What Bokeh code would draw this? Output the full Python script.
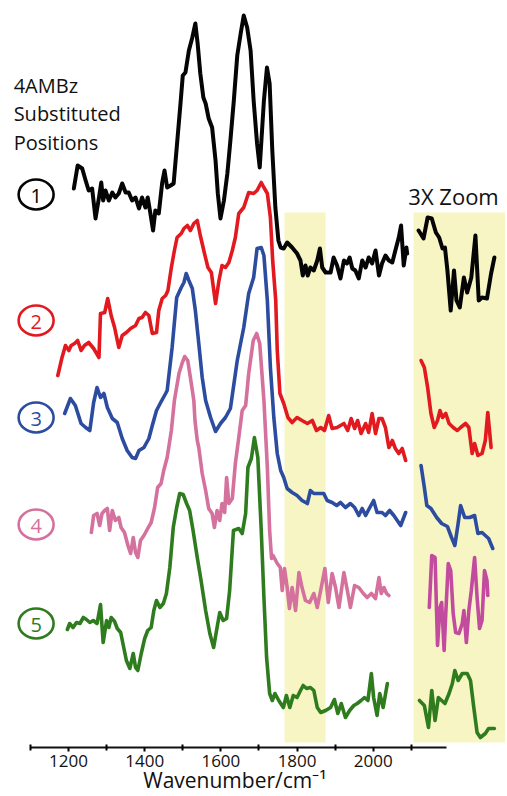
import numpy as np
from bokeh.plotting import figure
from bokeh.models import Range1d, FixedTicker, BoxAnnotation, Label, ColumnDataSource
from bokeh.core.properties import value
from bokeh.embed import file_html
from bokeh.resources import INLINE

# ---------------- data (wavenumber / cm-1, signal in arbitrary units) ----------------
WN1 = [1214,1224,1236,1245,1253,1262,1271,1280,1286,1291,1297,1306,1315,1323,1332,1341,1350,1358,1367,1376,
       1385,1393,1402,1408,1415,1422,1428,1437,1446,1452,1459,1468,1476,1485,1494,1500,1507,1516,1525,1533,
       1539,1546,1554,1560,1568,1577,1586,1592,1599,1608,1617,1625,1634,1643,1652,1660,1669,1678,1686,1695,
       1702,1713,1721,1728,1735,1743,1751,1757,1765,1774,1787,1800,1809,1815,1822,1828,1835,1844,1853,1860,
       1866,1875,1888,1896,1905,1914,1923,1931,1938,1945,1953,1962,1971,1980,1988,1997,2006,2015,2023,2032,
       2041,2050,2058,2067,2073,2080,2087,2089]
S1 = [72,95,92,80,70,72,42,63,78,60,70,60,68,63,67,77,68,68,60,63,
      52,63,53,63,47,30,50,47,78,90,73,75,77,117,157,185,188,210,223,237,
      217,187,163,157,142,133,100,67,42,60,87,120,160,205,227,245,233,210,160,117,
      93,160,193,177,110,53,20,13,12,18,13,7,0,-15,-5,-15,-7,-10,0,12,
      -7,-12,-12,3,-5,-18,0,-3,3,-8,-10,-18,0,-7,3,-3,10,-15,-3,5,
      0,-2,10,23,35,-5,13,7]
WN1Z = [1773,1779,1784,1789,1794,1798,1802,1805,1808,1812,1816,1819,1823,1828,1832,1837,1842,1846,1850,1856,1861,1865]
S1Z = [30,22,43,42,28,23,12,13,-10,-50,-10,-40,-47,-17,-32,-17,25,-40,-37,-38,-13,3]

WN2 = [1172,1183,1192,1201,1207,1216,1224,1233,1242,1253,1266,1280,1284,1295,1303,1312,1321,1332,1341,1352,
       1363,1376,1385,1393,1402,1411,1420,1431,1437,1446,1455,1461,1470,1478,1485,1496,1503,1512,1520,1529,
       1538,1546,1557,1566,1575,1586,1595,1603,1612,1621,1630,1638,1647,1660,1673,1686,1695,1706,1713,1722,
       1730,1736,1744,1748,1755,1765,1776,1787,1800,1813,1827,1840,1851,1862,1872,1883,1892,1905,1923,1933,
       1942,1951,1959,1968,1980,1988,1997,2006,2015,2023,2032,2041,2050,2058,2067,2076,2085]
S2 = [45,63,75,70,75,77,80,70,75,78,72,63,107,108,122,105,93,73,85,88,
      92,95,102,103,108,105,87,88,110,122,125,130,153,170,183,187,192,195,190,197,
      200,185,167,153,148,117,140,155,153,158,170,183,207,213,228,227,230,238,233,227,
      203,160,120,70,27,17,3,-2,3,0,-3,0,-10,-7,-10,5,-8,-7,-3,-10,
      2,-8,0,-13,-3,-12,7,-13,2,2,-7,-27,-20,-28,-33,-28,-40]
WN2Z = [1776,1780,1784,1788,1792,1796,1799,1802,1806,1810,1815,1820,1824,1830,1834,1838,1841,1845,1850,1854,1857,1861]
S2Z = [60,53,33,7,-7,0,10,3,7,-3,-7,-10,-7,-3,-7,-33,-23,-35,-33,-20,8,-27]

WN3 = [1190,1205,1218,1233,1245,1256,1266,1275,1284,1293,1302,1315,1328,1341,1354,1367,1376,1385,1398,1411,
       1420,1431,1442,1455,1459,1472,1484,1496,1503,1509,1516,1525,1533,1542,1551,1560,1573,1586,1599,1612,
       1625,1643,1660,1673,1686,1695,1706,1713,1722,1730,1739,1748,1757,1765,1774,1787,1800,1813,1827,1835,
       1844,1857,1870,1879,1892,1904,1914,1927,1940,1951,1962,1971,1980,1991,2001,2010,2023,2032,2043,2054,
       2063,2072,2080,2085]
S3 = [87,102,95,77,73,70,98,113,103,107,93,82,78,62,50,43,42,50,53,62,
      75,90,98,107,110,153,203,213,218,227,220,212,190,157,123,100,83,69,77,83,
      92,140,173,207,223,252,253,245,200,133,83,47,30,23,12,8,5,0,-3,10,
      7,7,7,0,-2,-5,-2,-7,-3,-7,-15,-8,-15,-7,0,-12,-12,-15,-10,-15,
      -20,-25,-17,-12]
WN3Z = [1776,1780,1783,1788,1795,1801,1808,1813,1817,1821,1824,1829,1835,1841,1845,1850,1854,1858,1863]
S3Z = [35,13,-5,-8,-17,-23,-26,-37,-45,-23,-5,-17,-17,-15,-33,-32,-35,-38,-48]

WN4 = [1260,1266,1275,1282,1288,1295,1302,1308,1315,1323,1332,1338,1347,1356,1363,1370,1376,1382,1389,1398,
       1408,1417,1426,1434,1443,1450,1459,1470,1478,1490,1498,1505,1513,1520,1529,1532,1538,1542,1551,1560,
       1568,1577,1583,1590,1597,1603,1610,1615,1621,1630,1638,1647,1656,1665,1673,1685,1694,1702,1713,1722,
       1728,1733,1737,1748,1756,1761,1767,1774,1780,1787,1796,1805,1813,1822,1833,1844,1853,1862,1873,1882,
       1892,1901,1910,1923,1932,1940,1951,1962,1974,1984,1995,2006,2015,2021,2028,2035,2041]
S4 = [58,75,77,65,77,80,82,60,80,70,73,63,58,45,37,53,38,33,50,55,
      62,68,83,103,107,120,133,160,190,217,227,234,230,213,190,170,150,143,117,100,
      82,77,63,80,70,87,78,113,87,92,127,153,180,185,217,250,257,247,190,123,
      60,32,35,27,23,0,22,3,-18,3,-20,18,3,-10,-12,-3,-17,0,22,-12,
      17,3,-17,18,0,-17,5,3,-3,-7,-3,-8,13,-3,3,-3,-5]
WN4Z = [1786,1789,1793,1796,1799,1801,1804,1806,1809,1812,1815,1818,1822,1826,1828,1831,1834,1837,1841,1844,
        1847,1850,1853,1856,1857]
S4Z = [-17,35,33,-55,-17,-12,-60,-23,27,20,-23,-42,-43,-33,-20,-52,-20,0,33,-7,-38,-30,20,10,-5]

WN5 = [1197,1203,1212,1221,1230,1239,1247,1256,1265,1275,1284,1291,1300,1306,1312,1321,1328,1337,1345,1352,
       1361,1370,1376,1382,1391,1400,1408,1417,1424,1431,1440,1449,1457,1466,1475,1484,1492,1501,1510,1518,
       1527,1538,1548,1560,1571,1581,1590,1597,1606,1615,1623,1633,1647,1656,1665,1671,1680,1688,1697,1706,
       1713,1720,1728,1735,1742,1752,1764,1772,1781,1790,1800,1809,1816,1825,1835,1844,1853,1862,1875,1888,
       1898,1907,1916,1927,1938,1949,1958,1968,1977,1986,1995,2001,2010,2017,2026,2037]
S5 = [76,82,78,83,82,88,86,83,85,82,101,63,85,78,88,84,77,73,58,45,
      37,52,38,35,52,67,75,78,95,105,98,102,112,138,178,198,212,211,202,195,
      175,148,125,95,72,58,78,93,85,87,115,175,177,172,192,238,247,268,248,175,
      108,48,12,5,12,5,-2,10,-2,10,8,15,20,17,18,15,-2,-7,-5,-2,
      6,-8,2,-12,-5,0,2,5,8,5,32,8,-10,12,-2,22]
WN5Z = [1774,1780,1785,1789,1793,1797,1801,1805,1810,1814,1817,1821,1826,1832,1836,1840,1844,1848,1854,1858,1865]
S5Z = [5,0,-22,15,-15,8,5,2,12,22,35,25,32,32,25,-2,-27,-32,-28,-23,-23]

SERIES_LABELS = ["1", "2", "3", "4", "5"]
TICKS = [1200, 1400, 1600, 1800, 2000]
MINOR_TICKS = [1100, 1300, 1500, 1700, 1900, 2100]
BAND = (1767, 1875)          # highlighted wavenumber window

# ---------------- layout / style ----------------
OFFSETS = [487, 327, 247, 157, 42]          # vertical stacking of the spectra
COLORS = ["#050505", "#e2191f", "#2c4c9f", "#d4719d", "#2e7c1e"]
ZOOM_COLORS = ["#050505", "#e2191f", "#2c4c9f", "#c24a9f", "#2e7c1e"]
YELLOW = "#f6f5c3"
FONT = "Open Sans"

X0, X1 = 1021.5, 2352.4
Y0, Y1 = 0, 747
PANEL_X0, PANEL_SCALE = 2106, 2.163          # where the 3X zoom panel sits
BAND_BOTTOM, BAND_TOP = 5, 535
LABEL_X = 1115
LABEL_Y = [553, 427, 330, 223, 124]

def panel_x(w):
    return PANEL_X0 + (np.asarray(w, dtype=float) - BAND[0]) * PANEL_SCALE

p = figure(width=507, height=796, x_range=Range1d(X0, X1), y_range=Range1d(Y0, Y1),
           output_backend="svg", toolbar_location=None, y_axis_location=None,
           min_border_left=0, min_border_right=0, min_border_top=0, min_border_bottom=49)
p.outline_line_color = None
p.grid.visible = False
p.background_fill_color = "white"
p.border_fill_color = "white"

p.add_layout(BoxAnnotation(left=BAND[0], right=BAND[1], bottom=BAND_BOTTOM, top=BAND_TOP,
                           fill_color=YELLOW, fill_alpha=1.0, line_color=None, level="underlay"))
p.add_layout(BoxAnnotation(left=PANEL_X0, right=panel_x(BAND[1] + 3).item(), bottom=BAND_BOTTOM, top=BAND_TOP,
                           fill_color=YELLOW, fill_alpha=1.0, line_color=None, level="underlay"))

mains = [(WN1, S1), (WN2, S2), (WN3, S3), (WN4, S4), (WN5, S5)]
zooms = [(WN1Z, S1Z), (WN2Z, S2Z), (WN3Z, S3Z), (WN4Z, S4Z), (WN5Z, S5Z)]
for i in range(5):
    w, s = mains[i]
    assert len(w) == len(s)
    src = ColumnDataSource(dict(x=w, y=np.asarray(s, float) + OFFSETS[i]))
    p.line("x", "y", source=src, line_color=COLORS[i], line_width=3.6 if i else 4.0,
           line_join="round", line_cap="round")
    wz, sz = zooms[i]
    assert len(wz) == len(sz)
    srcz = ColumnDataSource(dict(x=panel_x(wz), y=np.asarray(sz, float) + OFFSETS[i]))
    p.line("x", "y", source=srcz, line_color=ZOOM_COLORS[i], line_width=3.6 if i else 4.0,
           line_join="round", line_cap="round")

# circled series numbers
csrc = ColumnDataSource(dict(x=[LABEL_X] * 5, y=LABEL_Y, t=SERIES_LABELS, c=COLORS))
p.ellipse("x", "y", width=35, height=30, width_units="screen", height_units="screen",
          source=csrc, fill_color=None, line_color="c", line_width=2.6)
p.text("x", "y", text="t", source=csrc, text_color="c", text_align="center",
       text_baseline="middle", text_font_size="20px", text_font=value(FONT), y_offset=1)

# x axis
ax = p.xaxis[0]
ax.ticker = FixedTicker(ticks=TICKS, minor_ticks=MINOR_TICKS)
ax.bounds = (1100, 2192)
ax.axis_line_width = 2
ax.axis_line_color = "#111111"
ax.major_tick_line_width = 2
ax.minor_tick_line_width = 2
ax.major_tick_out = 4
ax.major_tick_in = 0
ax.minor_tick_out = 3
ax.minor_tick_in = 3
ax.major_label_standoff = 3
ax.major_label_text_font = FONT
ax.major_label_text_font_size = "17px"
ax.major_label_text_color = "#111111"
# trailing no-break spaces shift the centred title left, under the tick range
ax.axis_label = "Wavenumber/cm\u207b\u00b9" + "\u00a0" * 7
ax.axis_label_text_font = FONT
ax.axis_label_text_font_size = "21px"
ax.axis_label_text_font_style = "normal"
ax.axis_label_text_color = "#111111"
ax.axis_label_standoff = -4

def add_label(text, x, y, size, align="left", color="#111111"):
    p.add_layout(Label(x=x, y=y, text=text, text_font=FONT, text_font_size=size,
                       text_color=color, text_align=align, text_baseline="alphabetic"))

add_label("4AMBz", 1056, 662, "20px")
add_label("Substituted", 1056, 634, "20px")
add_label("Positions", 1056, 605, "20px")
add_label("3X Zoom", 2092, 552, "22px")

open("out.html", "w").write(file_html(p, INLINE))
